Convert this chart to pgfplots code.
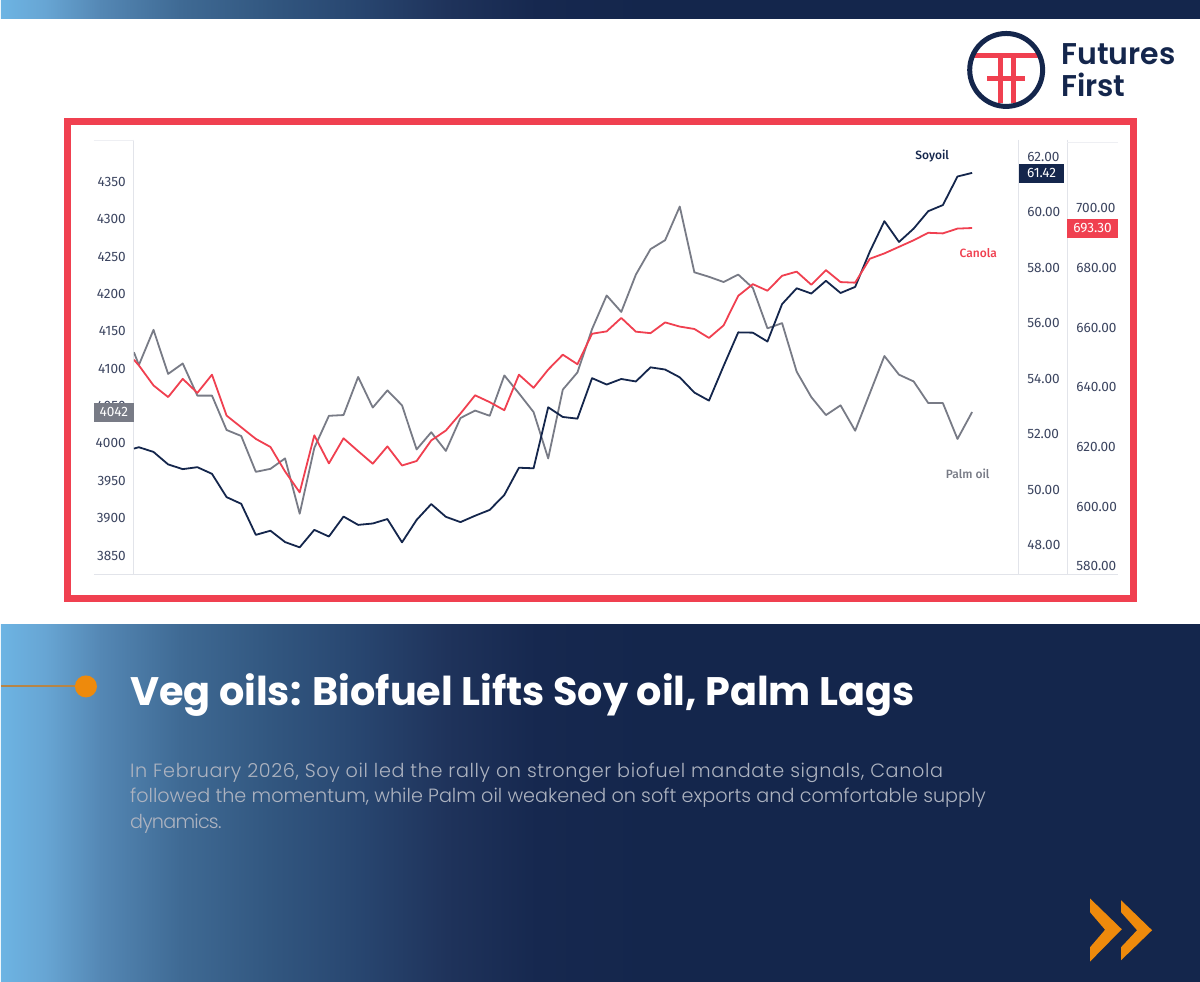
\documentclass[border=0pt]{standalone}
\usepackage{fontspec}
\usepackage{pgfplots}
\usepackage{pgfplotstable}
\pgfplotsset{compat=1.18}
\setmainfont{Fira Sans}
\newfontfamily\medfont{Fira Sans Medium}
\newfontfamily\titlefont{Poppins}[UprightFont=* Bold]
\newfontfamily\bodyfont{Poppins}[UprightFont=* Light]
\newfontfamily\bodywide{Poppins}[UprightFont=* Light,LetterSpace=3.3]
\newfontfamily\bodytight{Poppins}[UprightFont=* Light,LetterSpace=-4]
\newfontfamily\logofont{Poppins}[UprightFont=* SemiBold]
\definecolor{navy}{HTML}{14264C}
\definecolor{redl}{HTML}{F04050}
\definecolor{grayl}{HTML}{787B86}
\definecolor{tickc}{HTML}{3C4560}
\definecolor{axc}{HTML}{E2E4EA}
\definecolor{orangec}{HTML}{EE8A0C}
\definecolor{g0}{HTML}{6DB4E3}
\definecolor{g1}{HTML}{67A5D3}
\definecolor{g2}{HTML}{5487B4}
\definecolor{g3}{HTML}{3F6A94}
\definecolor{g4}{HTML}{325780}
\definecolor{g5}{HTML}{284670}
\definecolor{g6}{HTML}{1F335B}
\definecolor{g7}{HTML}{16284F}
\newcommand{\gradband}[2]{%
  \shade[left color=g0,right color=g1] (0,#1) rectangle (45.5,#2);
  \shade[left color=g1,right color=g2] (45,#1) rectangle (100.5,#2);
  \shade[left color=g2,right color=g3] (100,#1) rectangle (179.5,#2);
  \shade[left color=g3,right color=g4] (179,#1) rectangle (268.5,#2);
  \shade[left color=g4,right color=g5] (268,#1) rectangle (357.5,#2);
  \shade[left color=g5,right color=g6] (357,#1) rectangle (446.5,#2);
  \shade[left color=g6,right color=g7] (446,#1) rectangle (536.5,#2);
  \shade[left color=g7,right color=navy] (536,#1) rectangle (650.5,#2);
  \fill[navy] (650,#1) rectangle (1200,#2);
}
\pgfplotstableread{
k     palm soy   canola
-0.34 4122 51.48 649.2
0     4105 51.53 647.3
1     4152 51.36 640.6
2     4093 50.91 636.7
3     4107 50.74 642.8
4     4064 50.81 638.1
5     4064 50.57 644.2
6     4018 49.73 630.5
7     4010 49.49 626.6
8     3962 48.37 622.7
9     3966 48.52 620.0
10    3980 48.11 611.8
11    3906 47.92 604.8
12    3994 48.55 623.9
13    4037 48.31 614.5
14    4038 49.03 622.9
15    4089 48.73 618.6
16    4048 48.78 614.4
17    4071 48.94 620.2
18    4051 48.10 613.8
19    3992 48.91 615.3
20    4015 49.48 622.2
21    3990 49.02 625.5
22    4034 48.83 631.2
23    4044 49.06 637.3
24    4037 49.27 635.0
25    4091 49.81 632.3
26    4067 50.79 644.2
27    4042 50.77 639.8
28    3980 52.97 645.9
29    4072 52.62 650.9
30    4095 52.56 647.7
31    4153 54.02 657.9
32    4198 53.79 658.7
33    4176 53.99 663.2
34    4226 53.90 658.6
35    4260 54.41 658.1
36    4272 54.33 661.7
37    4317 54.05 660.3
38    4229 53.50 659.5
39    4223 53.21 656.5
40    4216 54.46 660.7
41    4226 55.67 670.6
42    4208 55.66 674.5
43    4154 55.34 672.3
44    4161 56.69 677.3
45    4096 57.26 678.7
46    4062 57.07 674.3
47    4038 57.53 679.2
48    4051 57.09 675.2
49    4017 57.31 675.0
50    4067 58.58 683.0
51    4117 59.68 684.8
52    4092 58.93 687.0
53    4083 59.41 689.2
54    4054 60.04 691.7
55    4054 60.26 691.5
56    4006 61.29 693.1
57    4042 61.42 693.3
}\oils
\pgfplotsset{
  oilaxis/.style={
    scale only axis,
    height=435pt,
    at={(133pt,-575pt)},anchor=south west,
    xmin=-0.342,
    xtick=\empty,
    axis line style={draw=none},
    major tick length=0pt,
    tick style={draw=none},
    y tick label style={font=\fontsize{13.6}{15}\selectfont,text=tickc,inner sep=0pt},
    /pgf/number format/assume math mode=true,
    /pgf/number format/set thousands separator={},
    line join=round,
  },
  twodec/.style={/pgf/number format/fixed,/pgf/number format/fixed zerofill,/pgf/number format/precision=2},
}
\begin{document}
\begin{tikzpicture}
\begin{scope}[x=1pt,y=-1pt]
\useasboundingbox (0,0) rectangle (1200,982);
\fill[white] (0,0) rectangle (1200,982);
% top bar and bottom panel
\gradband{0}{19}
\gradband{625}{983}
% frame
\draw[redl,line width=7pt] (66.5,121.5) rectangle (1133.5,598.5);
% chart axes lines
\draw[axc,line width=1pt] (93,575) -- (1118,575);
\draw[axc,line width=1pt] (133,140) -- (133,575);
\draw[axc,line width=1pt] (1018.5,140) -- (1018.5,575);
\draw[axc,line width=1pt] (1067,140) -- (1067,575);
\draw[axc!60,line width=0.8pt] (93,141) -- (133,141);
\draw[axc!60,line width=0.8pt] (1067,143) -- (1118,143);
\end{scope}

\begin{axis}[oilaxis,width=885pt,xmax=60.15,ymin=3824.6,ymax=4406.2,
  ytick={3850,3900,3950,4000,4050,4100,4150,4200,4250,4300,4350},
  y tick label style={xshift=-8pt}]
\addplot[grayl,line width=1.8pt] table[x=k,y=palm] {\oils};
\end{axis}
\begin{axis}[oilaxis,width=885pt,xmax=60.15,ymin=46.94,ymax=62.61,
  ytick={48,50,52,54,56,58,60,62},yticklabel pos=right,twodec,
  y tick label style={xshift=9pt}]
\addplot[navy,line width=1.8pt] table[x=k,y=soy] {\oils};
\end{axis}
\begin{axis}[oilaxis,width=934pt,xmax=63.5,ymin=577.3,ymax=722.8,
  ytick={580,600,620,640,660,680,700},yticklabel pos=right,twodec,
  y tick label style={xshift=9pt}]
\addplot[redl,line width=1.8pt] table[x=k,y=canola] {\oils};
\end{axis}

\begin{scope}[x=1pt,y=-1pt]
% price tags
\node[fill=grayl,text=white,inner sep=0pt,minimum width=40pt,minimum height=19pt,font=\fontsize{13.6}{15}\selectfont] at (113,412.5) {4042};
\node[fill=navy,text=white,inner sep=0pt,minimum width=45pt,minimum height=19pt,font=\fontsize{13.6}{15}\selectfont] at (1041.5,173.5) {61.42};
\node[fill=redl,text=white,inner sep=0pt,minimum width=51pt,minimum height=19pt,font=\fontsize{13.6}{15}\selectfont] at (1092.5,228.5) {693.30};
% series labels
\node[text=navy,font=\fontsize{12}{14}\medfont] at (932,156) {Soyoil};
\node[text=redl,font=\fontsize{12}{14}\medfont] at (978,253) {Canola};
\node[text=grayl,font=\fontsize{12}{14}\medfont] at (967.5,474) {Palm oil};
% logo
\fill[redl] (974,53) rectangle (1038,58);
\fill[redl] (997.5,53) rectangle (1002.5,103);
\fill[redl] (1010.5,53) rectangle (1015.5,103);
\fill[redl] (987,76.5) rectangle (1025,81.5);
\draw[navy,line width=5pt] (1006,70) circle (36.5);
\node[anchor=base west,inner sep=0pt,text=navy,font=\fontsize{30}{32}\logofont] at (1061,65) {Futures};
\node[anchor=base west,inner sep=0pt,text=navy,font=\fontsize{30}{32}\logofont] at (1061,97) {First};
% bullet
\draw[line width=2pt,color=orangec!50!gray] (0,687) -- (76,687);
\fill[orangec] (85,687) circle (11);
% title
\node[anchor=base west,inner sep=0pt,text=white,font=\fontsize{39.8}{44}\titlefont] at (129,706) {Veg oils: Biofuel Lifts Soy oil, Palm Lags};
% body
\node[anchor=base west,inner sep=0pt,text=white!65!navy,font=\fontsize{19.2}{24}\bodywide] at (129,778) {In February 2026, Soy oil led the rally on stronger biofuel mandate signals, Canola};
\node[anchor=base west,inner sep=0pt,text=white!65!navy,font=\fontsize{19.2}{24}\bodyfont] at (129,803) {followed the momentum, while Palm oil weakened on soft exports and comfortable supply};
\node[anchor=base west,inner sep=0pt,text=white!65!navy,font=\fontsize{19.2}{24}\bodytight] at (129,829) {dynamics.};
% chevrons
\fill[orangec] (1090,899.3) -- (1121.7,930) -- (1090,962.3) -- (1090,948) -- (1105,930.5) -- (1090,913) -- cycle;
\fill[orangec] (1121,901) -- (1152,931) -- (1121,961) -- (1121,948) -- (1137,931) -- (1121,913) -- cycle;
\end{scope}
\end{tikzpicture}
\end{document}
